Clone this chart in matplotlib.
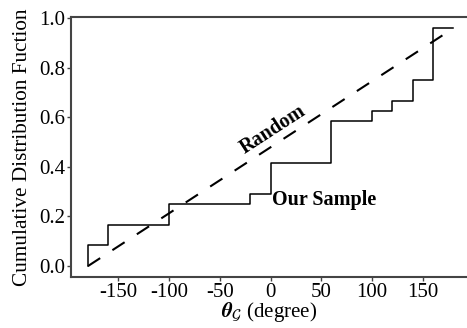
import matplotlib
matplotlib.use("Agg")
import matplotlib.pyplot as plt

plt.rcParams["font.family"] = ["Liberation Serif", "DejaVu Serif"]
plt.rcParams["mathtext.fontset"] = "stix"

# empirical CDF of our sample (step positions in degrees, cumulative fraction)
sample_x = [-180, -180, -160, -100, -20, 0, 60, 100, 120, 140, 160, 180]
sample_cdf = [0.0, 0.083, 0.167, 0.25, 0.292, 0.417, 0.583, 0.625, 0.667, 0.75, 0.958, 0.958]

# random (uniform) reference
random_x = [-180, 180]
random_cdf = [0.0, 0.958]

xticks = [-150, -100, -50, 0, 50, 100, 150]
yticks = [0.0, 0.2, 0.4, 0.6, 0.8, 1.0]

fig = plt.figure(figsize=(4.67, 3.28), dpi=100)
ax = fig.add_axes([0.1514, 0.1555, 0.8486, 0.7935])

ax.step(sample_x, sample_cdf, where="post", color="black", lw=1.1)
ax.plot(random_x, random_cdf, color="black", lw=1.5, dashes=(7, 7))

ax.text(2, 0.548, "Random", rotation=33, rotation_mode="anchor",
        ha="center", va="center", fontsize=14.5, fontweight="bold")
ax.text(1, 0.266, "Our Sample", ha="left", va="center",
        fontsize=14.5, fontweight="bold")

ax.set_xlim(-197, 193.6)
ax.set_ylim(-0.044, 1.005)
ax.set_xticks(xticks)
ax.set_yticks(yticks)
ax.set_xticklabels([str(t) for t in xticks])
ax.set_yticklabels([f"{t:.1f}" for t in yticks])
ax.tick_params(labelsize=15, length=3, width=1, color="#444444", pad=1)

ax.set_xlabel(r"$\boldsymbol{\theta}_{\mathcal{G}}$ (degree)", fontsize=15, labelpad=-1)
ax.set_ylabel("Cumulative Distribution Fuction", fontsize=15.3, labelpad=5)

for side in ["left", "bottom", "top"]:
    ax.spines[side].set_color("#444444")
    ax.spines[side].set_linewidth(1.5)
ax.spines["right"].set_visible(False)

fig.savefig("out.png", dpi=100)
